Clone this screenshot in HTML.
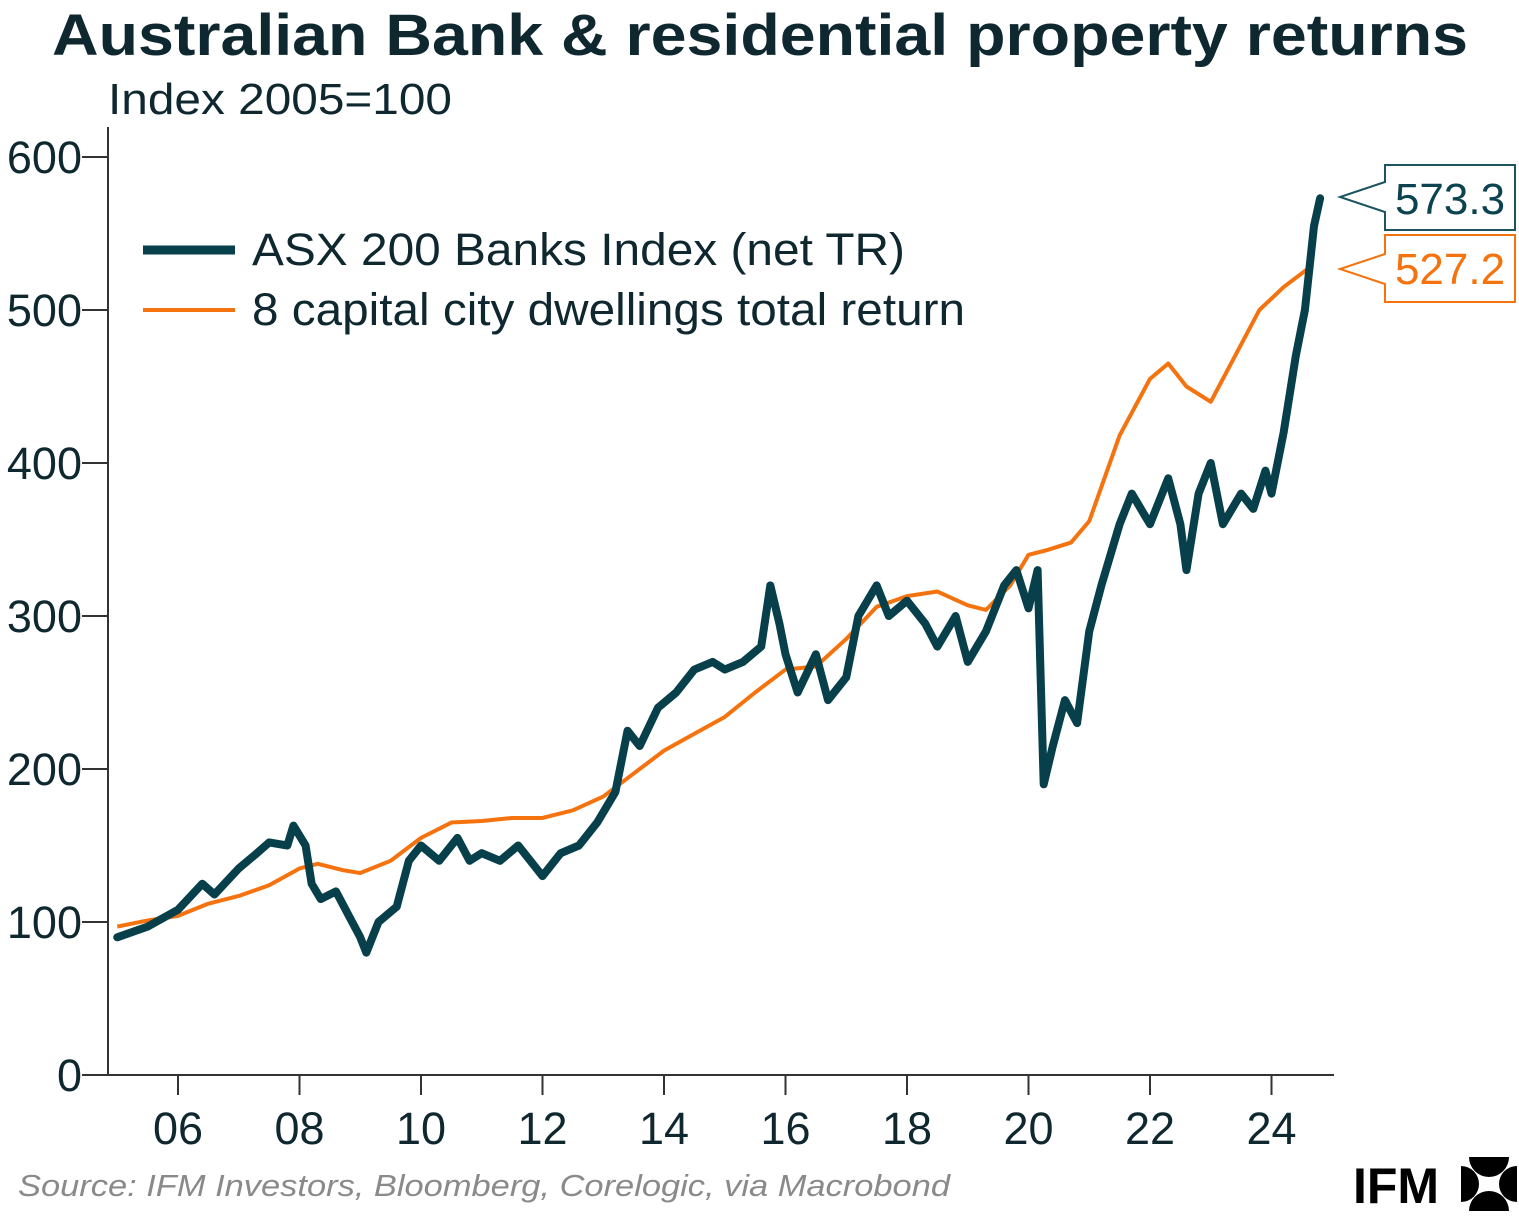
<!DOCTYPE html>
<html><head><meta charset="utf-8"><style>
body{margin:0;background:#fff;width:1519px;height:1221px;overflow:hidden;font-family:"Liberation Sans",sans-serif}
</style></head><body>
<svg id="chart" width="1519" height="1221" xmlns="http://www.w3.org/2000/svg" font-family="Liberation Sans, sans-serif">
<defs><clipPath id="lc"><rect x="1461" y="1157" width="56" height="54"/></clipPath></defs>
<text x="52" y="55" textLength="1416" lengthAdjust="spacingAndGlyphs" font-size="58" font-weight="bold" fill="#0f2830">Australian Bank &amp; residential property returns</text>
<text x="108" y="114" textLength="344" lengthAdjust="spacingAndGlyphs" font-size="44" fill="#0f2830">Index 2005=100</text>
<g id="axes"></g>
<g id="series"></g>
<g>
<line x1="143" y1="250" x2="235" y2="250" stroke="#073f4a" stroke-width="9"/>
<text x="252" y="265" textLength="653" lengthAdjust="spacingAndGlyphs" font-size="45" fill="#0f2830">ASX 200 Banks Index (net TR)</text>
<line x1="143" y1="310" x2="235" y2="310" stroke="#f5730f" stroke-width="4"/>
<text x="252" y="325" textLength="713" lengthAdjust="spacingAndGlyphs" font-size="45" fill="#0f2830">8 capital city dwellings total return</text>
</g>
<g>
<path d="M1385,165 H1515 V230 H1385 V212 L1340,197 L1385,182 Z" fill="#fff" stroke="#1c5560" stroke-width="2"/>
<text x="1450" y="214" text-anchor="middle" font-size="44" fill="#0b4450">573.3</text>
</g>
<g>
<path d="M1385,235 H1515 V302 H1385 V284 L1340,269 L1385,254 Z" fill="#fff" stroke="#f5730f" stroke-width="2"/>
<text x="1450" y="284" text-anchor="middle" font-size="44" fill="#f5730f">527.2</text>
</g>
<text x="18" y="1196" textLength="932" lengthAdjust="spacingAndGlyphs" font-size="31" font-style="italic" fill="#8a8a8a">Source: IFM Investors, Bloomberg, Corelogic, via Macrobond</text>
<g>
<text x="1353" y="1203" font-size="50" font-weight="bold" fill="#000">IFM</text>
<g clip-path="url(#lc)" fill="#000">
<circle cx="1489" cy="1157" r="20"/>
<circle cx="1489" cy="1211" r="20"/>
<circle cx="1461" cy="1184" r="18"/>
<circle cx="1517" cy="1184" r="18"/>
</g>
</g>
</svg>
<script>
const yTicks=[0,100,200,300,400,500,600];
const xTickYears=[2006,2008,2010,2012,2014,2016,2018,2020,2022,2024];
const xTickLabels=["06","08","10","12","14","16","18","20","22","24"];
const banksYears=[2005.0,2005.5,2006.0,2006.4,2006.6,2007.0,2007.3,2007.5,2007.8,2007.9,2008.1,2008.2,2008.35,2008.6,2008.8,2009.0,2009.1,2009.3,2009.6,2009.8,2010.0,2010.3,2010.6,2010.8,2011.0,2011.3,2011.6,2011.8,2012.0,2012.3,2012.6,2012.9,2013.2,2013.4,2013.6,2013.9,2014.2,2014.5,2014.8,2015.0,2015.3,2015.6,2015.75,2015.9,2016.0,2016.2,2016.5,2016.7,2017.0,2017.2,2017.5,2017.7,2018.0,2018.3,2018.5,2018.8,2019.0,2019.3,2019.6,2019.8,2020.0,2020.15,2020.25,2020.4,2020.6,2020.8,2021.0,2021.2,2021.5,2021.7,2022.0,2022.3,2022.5,2022.6,2022.8,2023.0,2023.2,2023.5,2023.7,2023.9,2024.0,2024.2,2024.4,2024.55,2024.7,2024.8];
const banksValues=[90,97,108,125,118,135,145,152,150,163,150,125,115,120,105,90,80,100,110,140,150,140,155,140,145,140,150,140,130,145,150,165,185,225,215,240,250,265,270,265,270,280,320,295,275,250,275,245,260,300,320,300,310,295,280,300,270,290,320,330,305,330,190,215,245,230,290,320,360,380,360,390,360,330,380,400,360,380,370,395,380,420,470,500,555,573];
const dwellYears=[2005.0,2005.5,2006.0,2006.5,2007.0,2007.5,2008.0,2008.3,2008.7,2009.0,2009.5,2010.0,2010.5,2011.0,2011.5,2012.0,2012.5,2013.0,2013.5,2014.0,2014.5,2015.0,2015.5,2016.0,2016.5,2017.0,2017.5,2018.0,2018.5,2019.0,2019.3,2019.7,2020.0,2020.3,2020.7,2021.0,2021.5,2022.0,2022.3,2022.6,2023.0,2023.4,2023.8,2024.2,2024.6];
const dwellValues=[97,101,104,112,117,124,135,138,134,132,140,155,165,166,168,168,173,182,197,212,223,234,250,265,267,285,306,313,316,307,304,320,340,343,348,362,418,455,465,450,440,470,500,515,527];
const NS="http://www.w3.org/2000/svg";
const X=t=>178+(t-2006)*60.75;
const Y=v=>1075-v*1.53;
const axes=document.getElementById('axes'),ser=document.getElementById('series');
function mk(tag,attrs,parent){const e=document.createElementNS(NS,tag);for(const k in attrs)e.setAttribute(k,attrs[k]);parent.appendChild(e);return e;}
let l=mk('line',{x1:108,y1:127,x2:108,y2:1075,stroke:'#333','stroke-width':2},axes);


l=mk('line',{x1:108,y1:1075,x2:1334,y2:1075,stroke:'#333','stroke-width':2},axes);


yTicks.forEach(v=>{
 const t=mk('line',{x1:82,x2:108,y1:Y(v),y2:Y(v),stroke:'#333','stroke-width':2},axes);
 
 
 const tx=mk('text',{x:82,y:Y(v)+16,'text-anchor':'end','font-size':45,fill:'#0f2830'},axes);
 tx.textContent=v;
 
 
});
xTickYears.forEach((yr,i)=>{
 const t=mk('line',{x1:X(yr),x2:X(yr),y1:1075,y2:1095,stroke:'#333','stroke-width':2},axes);
 
 
 const tx=mk('text',{x:X(yr),y:1144,'text-anchor':'middle','font-size':45,fill:'#0f2830'},axes);
 tx.textContent=xTickLabels[i];
 
 
});
const dp=mk('polyline',{points:dwellYears.map((t,i)=>X(t)+','+Y(dwellValues[i])).join(' '),fill:'none',stroke:'#f5730f','stroke-width':4,'stroke-linejoin':'round'},ser);


const bp=mk('polyline',{points:banksYears.map((t,i)=>X(t)+','+Y(banksValues[i])).join(' '),fill:'none',stroke:'#073f4a','stroke-width':8,'stroke-linejoin':'round','stroke-linecap':'round'},ser);


</script>
</body></html>
